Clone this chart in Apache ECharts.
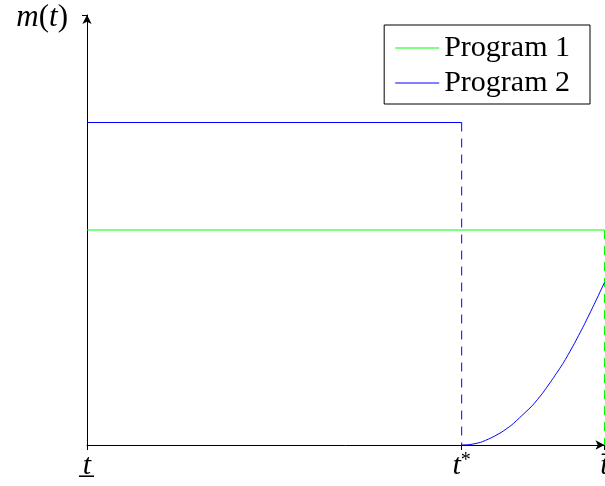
<!DOCTYPE html>
<html>
<head>
<meta charset="utf-8">
<script src="https://cdn.jsdelivr.net/npm/echarts@6/dist/echarts.min.js"></script>
<style>
  html, body { margin: 0; padding: 0; background: #fff; }
  #chart { width: 605px; height: 486px; }
</style>
</head>
<body>
<div id="chart"></div>
<script>
// Switching time t* and the end of the horizon (horizon starts at 0)
const tStar = 0.724;
const tEnd = 1;

// Tick positions on the time axis and their labels (t lower, t*, t upper)
const timeTicks = [0, tStar, tEnd];
const timeTickLabels = ['{u|t\u0332}', '{i|t}{s|*}', '{i|t\u0304}'];

// Program 1: constant level, then dashed drop at the end of the horizon
const prog1T = [0, tEnd];
const prog1M = [0.5, 0.5];
const prog1DropT = [tEnd, tEnd];
const prog1DropM = [0.5, 0];

// Program 2: higher constant level until t*, dashed drop, then rising curve
const prog2T = [0, tStar];
const prog2M = [0.75, 0.75];
const prog2DropT = [tStar, tStar];
const prog2DropM = [0.75, 0];
const prog2CurveT = [0.724, 0.74, 0.76, 0.78, 0.80, 0.82, 0.84, 0.86, 0.88, 0.90, 0.92, 0.94, 0.96, 0.98, 1.0];
const prog2CurveM = [0, 0.001, 0.006, 0.016, 0.029, 0.046, 0.068, 0.091, 0.12, 0.154, 0.19, 0.232, 0.278, 0.327, 0.378];

const GREEN = '#00ff00';
const BLUE = '#0000ff';
const SERIF = '"Liberation Serif", "DejaVu Serif", serif';

const zip = (xs, ys) => xs.map((x, i) => [x, ys[i]]);

const chart = echarts.init(document.getElementById('chart'), null, { renderer: 'canvas' });

chart.setOption({
  animation: false,
  backgroundColor: '#fff',
  grid: { left: 87, right: 0.5, top: 15, bottom: 41, containLabel: false, outerBoundsMode: 'none' },
  legend: {
    data: ['Program 1', 'Program 2'],
    orient: 'vertical',
    right: 15,
    top: 25,
    padding: [8, 20, 6, 11],
    itemGap: 5,
    itemWidth: 44,
    itemHeight: 1,
    icon: 'rect',
    backgroundColor: '#fff',
    borderColor: '#000',
    borderWidth: 1,
    borderRadius: 0,
    textStyle: { fontFamily: SERIF, fontSize: 30, color: '#000', lineHeight: 30 }
  },
  xAxis: {
    type: 'value',
    min: 0,
    max: tEnd,
    splitLine: { show: false },
    axisLine: {
      onZero: false,
      lineStyle: { color: '#000', width: 1 },
      symbol: ['none', 'arrow'],
      symbolSize: [7, 9]
    },
    axisTick: { show: true, customValues: timeTicks, length: 5, lineStyle: { color: '#000' } },
    axisLabel: {
      customValues: timeTicks,
      showMinLabel: true,
      showMaxLabel: true,
      hideOverlap: false,
      margin: 6,
      formatter: (v) => {
        const i = timeTicks.findIndex(t => Math.abs(t - v) < 1e-9);
        return i >= 0 ? timeTickLabels[i] : '';
      },
      rich: {
        u: { fontFamily: SERIF, fontStyle: 'italic', fontSize: 30, color: '#000' },
        i: { fontFamily: SERIF, fontStyle: 'italic', fontSize: 30, color: '#000' },
        s: { fontFamily: SERIF, fontSize: 20, color: '#000', verticalAlign: 'top', padding: [0, 0, 10, 0] }
      }
    }
  },
  yAxis: {
    type: 'value',
    min: 0,
    max: 1,
    splitLine: { show: false },
    axisLine: {
      lineStyle: { color: '#000', width: 1 },
      symbol: ['none', 'arrow'],
      symbolSize: [7, 9]
    },
    axisTick: { show: true, customValues: [1], length: 5, lineStyle: { color: '#000' } },
    axisLabel: { show: false },
    name: '{i|m}{n|(}{i|t}{n|)}',
    nameLocation: 'end',
    nameGap: -3,
    nameTextStyle: {
      align: 'right',
      verticalAlign: 'middle',
      padding: [0, 19, 0, 0],
      rich: {
        i: { fontFamily: SERIF, fontStyle: 'italic', fontSize: 31, color: '#000' },
        n: { fontFamily: SERIF, fontSize: 31, color: '#000' }
      }
    }
  },
  series: [
    {
      name: 'Program 1', type: 'line', data: zip(prog1T, prog1M),
      symbol: 'none', lineStyle: { color: GREEN, width: 1 }, itemStyle: { color: GREEN }, z: 2
    },
    {
      name: 'Program 1 drop', type: 'line', data: zip(prog1DropT, prog1DropM),
      symbol: 'none', lineStyle: { color: GREEN, width: 1, type: [9, 7] }, z: 2
    },
    {
      name: 'Program 2', type: 'line', data: zip(prog2T, prog2M),
      symbol: 'none', lineStyle: { color: BLUE, width: 1 }, itemStyle: { color: BLUE }, z: 3
    },
    {
      name: 'Program 2 drop', type: 'line', data: zip(prog2DropT, prog2DropM),
      symbol: 'none', lineStyle: { color: BLUE, width: 1, type: [9, 7] }, z: 3
    },
    {
      name: 'Program 2 curve', type: 'line', data: zip(prog2CurveT, prog2CurveM),
      symbol: 'none', smooth: 0.2, lineStyle: { color: BLUE, width: 1 }, z: 3
    }
  ]
});
</script>
</body>
</html>
